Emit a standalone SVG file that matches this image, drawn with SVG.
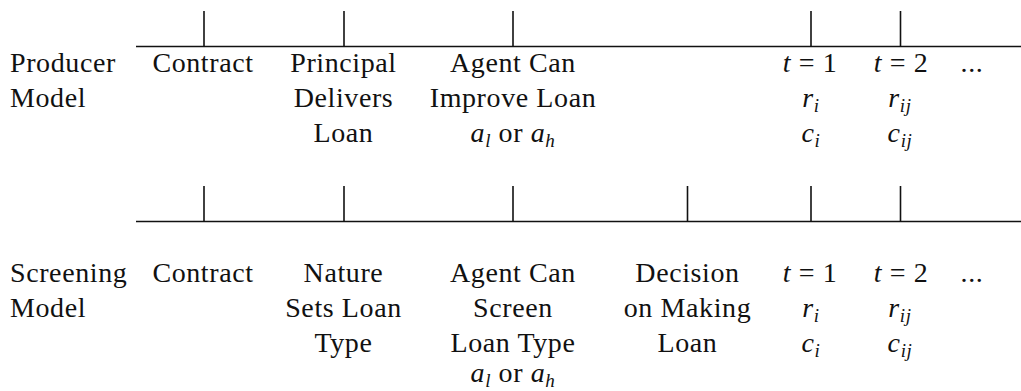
<svg xmlns="http://www.w3.org/2000/svg" width="1021" height="391" viewBox="0 0 1021 391">
<style>
text{font-family:"Liberation Serif","Times New Roman",serif;font-size:28px;letter-spacing:0.6px;fill:#111}
.c{text-anchor:middle}
.i{font-style:italic}
.s{font-size:19px;font-style:italic}
line{stroke:#111;stroke-width:1.6}
</style>
<rect width="1021" height="391" fill="#fff"/>
<g id="connectors">
<line x1="136" y1="46.5" x2="1021" y2="46.5"/>
<line x1="204" y1="11" x2="204" y2="46.5"/>
<line x1="344" y1="11" x2="344" y2="46.5"/>
<line x1="513" y1="11" x2="513" y2="46.5"/>
<line x1="811" y1="11" x2="811" y2="46.5"/>
<line x1="900.5" y1="11" x2="900.5" y2="46.5"/>
<line x1="136" y1="221.5" x2="1021" y2="221.5"/>
<line x1="204" y1="186" x2="204" y2="221.5"/>
<line x1="344" y1="186" x2="344" y2="221.5"/>
<line x1="513" y1="186" x2="513" y2="221.5"/>
<line x1="687.5" y1="186" x2="687.5" y2="221.5"/>
<line x1="811" y1="186" x2="811" y2="221.5"/>
<line x1="900.5" y1="186" x2="900.5" y2="221.5"/>
</g>
<g id="producer-label"><text x="10" y="72">Producer</text><text x="10" y="107">Model</text></g>
<g id="p-contract"><text class="c" x="203" y="72">Contract</text></g>
<g id="p-principal"><text class="c" x="343.5" y="72">Principal</text><text class="c" x="343.5" y="107">Delivers</text><text class="c" x="343.5" y="142">Loan</text></g>
<g id="p-agent"><text class="c" x="513" y="72">Agent Can</text><text class="c" x="513" y="107">Improve Loan</text><text class="c" x="513" y="142"><tspan class="i">a</tspan><tspan class="s" dy="5">l</tspan><tspan dy="-5"> or </tspan><tspan class="i">a</tspan><tspan class="s" dy="5">h</tspan></text></g>
<g id="p-t1"><text class="c" x="810" y="72"><tspan class="i">t</tspan> = 1</text><text class="c" x="811" y="107"><tspan class="i">r</tspan><tspan class="s" dy="5">i</tspan></text><text class="c" x="811" y="142"><tspan class="i">c</tspan><tspan class="s" dy="5">i</tspan></text></g>
<g id="p-t2"><text class="c" x="901" y="72"><tspan class="i">t</tspan> = 2</text><text class="c" x="900" y="107"><tspan class="i">r</tspan><tspan class="s" dy="5">ij</tspan></text><text class="c" x="900" y="142"><tspan class="i">c</tspan><tspan class="s" dy="5">ij</tspan></text></g>
<g id="p-dots"><text class="c" x="972" y="72">...</text></g>
<g id="screening-label"><text x="10" y="282">Screening</text><text x="10" y="317">Model</text></g>
<g id="s-contract"><text class="c" x="203" y="282">Contract</text></g>
<g id="s-nature"><text class="c" x="343.5" y="282">Nature</text><text class="c" x="343.5" y="317">Sets Loan</text><text class="c" x="343.5" y="352">Type</text></g>
<g id="s-agent"><text class="c" x="513" y="282">Agent Can</text><text class="c" x="513" y="317">Screen</text><text class="c" x="513" y="352">Loan Type</text><text class="c" x="513" y="382"><tspan class="i">a</tspan><tspan class="s" dy="5">l</tspan><tspan dy="-5"> or </tspan><tspan class="i">a</tspan><tspan class="s" dy="5">h</tspan></text></g>
<g id="s-decision"><text class="c" x="687.5" y="282">Decision</text><text class="c" x="687.5" y="317">on Making</text><text class="c" x="687.5" y="352">Loan</text></g>
<g id="s-t1"><text class="c" x="810" y="282"><tspan class="i">t</tspan> = 1</text><text class="c" x="811" y="317"><tspan class="i">r</tspan><tspan class="s" dy="5">i</tspan></text><text class="c" x="811" y="352"><tspan class="i">c</tspan><tspan class="s" dy="5">i</tspan></text></g>
<g id="s-t2"><text class="c" x="901" y="282"><tspan class="i">t</tspan> = 2</text><text class="c" x="900" y="317"><tspan class="i">r</tspan><tspan class="s" dy="5">ij</tspan></text><text class="c" x="900" y="352"><tspan class="i">c</tspan><tspan class="s" dy="5">ij</tspan></text></g>
<g id="s-dots"><text class="c" x="972" y="282">...</text></g>
</svg>
